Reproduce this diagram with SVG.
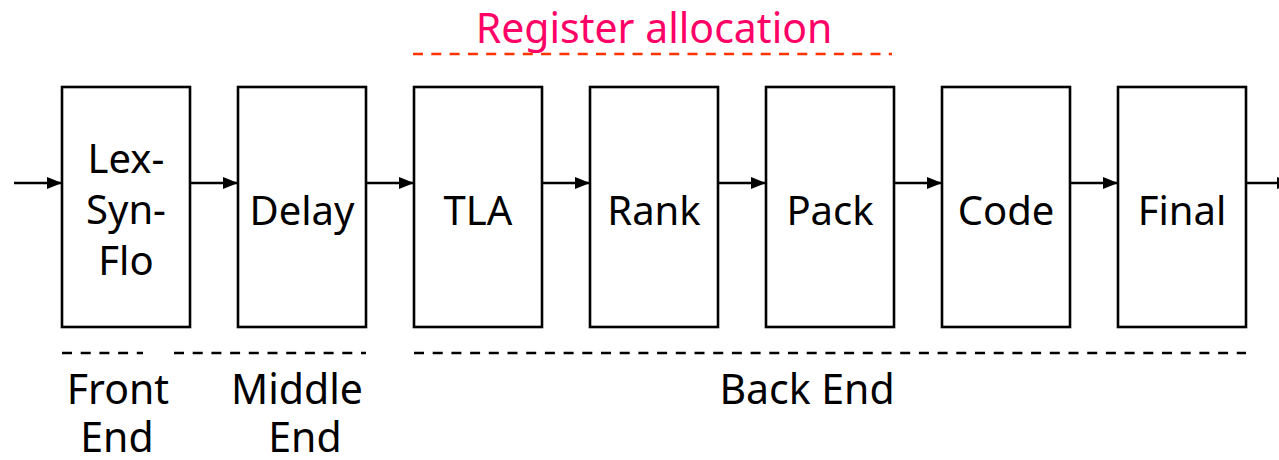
<svg xmlns="http://www.w3.org/2000/svg" width="1279" height="460" viewBox="0 0 1279 460">
<defs>
<marker id="ah" viewBox="0 0 15 12" refX="15" refY="6" markerWidth="15" markerHeight="12" markerUnits="userSpaceOnUse" orient="auto">
<path d="M0,0 L15,6 L0,12 Z" fill="#000"/>
</marker>
</defs>
<style>
.box{fill:#fff;stroke:#000;stroke-width:2.6}
.t{font-family:"Noto Sans","DejaVu Sans",sans-serif;font-size:40px;fill:#000;text-anchor:middle}
.lbl{font-family:"Noto Sans","DejaVu Sans",sans-serif;font-size:41px;fill:#000;text-anchor:middle}
.red{font-family:"Noto Sans","DejaVu Sans",sans-serif;font-size:41px;fill:#ff0066;text-anchor:middle}
.conn{stroke:#000;stroke-width:2.5;fill:none}
.dash{stroke:#000;stroke-width:2.5;stroke-dasharray:10 8.7;fill:none}
.rdash{stroke:#ff3300;stroke-width:2.5;stroke-dasharray:10 8.3;fill:none}
</style>
<rect width="1279" height="460" fill="#fff"/>
<g id="reg-alloc">
<text class="red" x="654" y="43">Register allocation</text>
<line class="rdash" x1="413" y1="54" x2="892" y2="54"/>
</g>
<g id="connectors">
<line class="conn" x1="14" y1="183" x2="62" y2="183" marker-end="url(#ah)"/>
<line class="conn" x1="190" y1="183" x2="238" y2="183" marker-end="url(#ah)"/>
<line class="conn" x1="366" y1="183" x2="414" y2="183" marker-end="url(#ah)"/>
<line class="conn" x1="542" y1="183" x2="590" y2="183" marker-end="url(#ah)"/>
<line class="conn" x1="718" y1="183" x2="766" y2="183" marker-end="url(#ah)"/>
<line class="conn" x1="894" y1="183" x2="942" y2="183" marker-end="url(#ah)"/>
<line class="conn" x1="1070" y1="183" x2="1118" y2="183" marker-end="url(#ah)"/>
<line class="conn" x1="1246" y1="183" x2="1292" y2="183" marker-end="url(#ah)"/>
</g>
<g id="lexsynflo">
<rect class="box" x="62" y="87" width="128" height="240"/>
<text class="t" x="126" y="173">Lex-</text>
<text class="t" x="126" y="224">Syn-</text>
<text class="t" x="126" y="275">Flo</text>
</g>
<g id="delay">
<rect class="box" x="238" y="87" width="128" height="240"/>
<text class="t" x="302" y="225">Delay</text>
</g>
<g id="tla">
<rect class="box" x="414" y="87" width="128" height="240"/>
<text class="t" x="478" y="225">TLA</text>
</g>
<g id="rank">
<rect class="box" x="590" y="87" width="128" height="240"/>
<text class="t" x="654" y="225">Rank</text>
</g>
<g id="pack">
<rect class="box" x="766" y="87" width="128" height="240"/>
<text class="t" x="830" y="225">Pack</text>
</g>
<g id="code">
<rect class="box" x="942" y="87" width="128" height="240"/>
<text class="t" x="1006" y="225">Code</text>
</g>
<g id="final">
<rect class="box" x="1118" y="87" width="128" height="240"/>
<text class="t" x="1182" y="225">Final</text>
</g>
<g id="front-end">
<line class="dash" x1="62" y1="353" x2="143" y2="353"/>
<text class="lbl" x="118" y="404">Front</text>
<text class="lbl" x="117" y="452">End</text>
</g>
<g id="middle-end">
<line class="dash" x1="174" y1="353" x2="366" y2="353"/>
<text class="lbl" x="297" y="404">Middle</text>
<text class="lbl" x="305" y="452">End</text>
</g>
<g id="back-end">
<line class="dash" x1="414" y1="353" x2="1246" y2="353"/>
<text class="lbl" x="807" y="404">Back End</text>
</g>
</svg>
